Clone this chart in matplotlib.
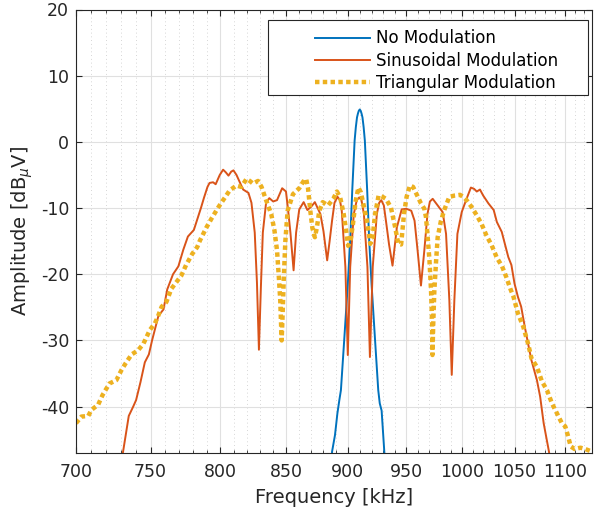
import numpy as np
import matplotlib
matplotlib.use("Agg")
import matplotlib.pyplot as plt
from matplotlib.patches import Rectangle
from matplotlib.ticker import FixedLocator, NullFormatter, FixedFormatter

plt.rcParams['axes.unicode_minus'] = False

# frequency [kHz] / amplitude [dBuV]
f_none = [886, 887, 889.4, 891.4, 893, 894.3, 897, 900, 902, 903.7, 905.7, 906.7,
          907.7, 908.5, 909.2, 910, 910.8, 911.5, 912.3, 913.3, 914.3, 916.3, 918,
          920, 923, 925.7, 927, 928.6, 930.9, 932]
a_none = [-50, -46.8, -44.3, -41, -39, -37.5, -30, -21.5, -14.9, -7.4, 0.2, 2.2,
          3.7, 4.3, 4.7, 4.9, 4.7, 4.3, 3.7, 2.2, 0.2, -7.4, -14.9,
          -21.5, -30, -37.5, -39.5, -40.6, -46.8, -50]

f_sin = [728, 731, 735, 738, 740, 743, 746, 748.8, 751, 755.4, 759, 761.6, 765.7,
         769.5, 773, 776.3, 780.6, 785.7, 788, 790.5, 792, 794.6, 796.5, 799.5, 802,
         804, 806, 808, 809.7, 812, 814.7, 817, 821, 823.3, 825.8, 827.5, 829, 830.5,
         832, 834.5, 837, 840, 843, 847, 850, 851.5, 853.5, 856, 858, 860.5, 864,
         867, 870, 873, 877.5, 880, 883, 885, 887, 889, 891.5, 893.5, 895, 898, 900,
         902, 905, 907.5, 909.5, 911.5, 913.5, 916.5, 918.6, 921, 924.5, 926.5, 928.3,
         930.5, 932.3, 935, 938, 941.8, 946, 950, 954.4, 957.3, 960, 963, 966, 968.8,
         971, 973.5, 978, 982.5, 985.6, 988.6, 990.8, 993.2, 996, 1000, 1004, 1008.5,
         1011.5, 1014, 1017, 1020, 1025, 1030, 1033, 1037.7, 1041, 1044, 1047, 1050,
         1053.3, 1056.5, 1060, 1063.3, 1066.6, 1072, 1075.2, 1078.7, 1084, 1087]
a_sin = [-50, -47, -41.4, -40, -39, -36.3, -33.3, -32.1, -30, -26.3, -25.3, -22.3, -20,
         -18.8, -16.3, -14.3, -13.3, -10, -8.4, -6.8, -6.2, -6.1, -6.4, -5.0, -4.2,
         -4.6, -5.1, -4.5, -4.3, -5.0, -6.2, -7.2, -7.7, -9.2, -13.7, -21.3, -31.4, -22,
         -13.7, -9.2, -8.5, -9.0, -8.8, -7.0, -7.5, -10, -13.7, -19.4, -13.7, -10.2, -9.1,
         -10.3, -9.8, -9.1, -10.9, -13.5, -17.9, -15, -11.9, -9.2, -8.3, -8.8, -10.4, -18.9, -32.2,
         -18.9, -10.9, -8.8, -8.4, -8.8, -10.9, -18.9, -32.5, -18.9, -10.9, -9.2, -8.8,
         -9.6, -11.9, -15.5, -18.7, -12.9, -10.2, -10.1, -10.4, -11.9, -16.4, -21.7, -16.4, -10.9,
         -9.0, -8.6, -9.6, -10.6, -13.9, -23.9, -35.2, -23.9, -13.9, -10.6, -8.8, -6.9,
         -7.1, -7.5, -7.2, -8.1, -9.3, -10.3, -12.1, -13.6, -15.6, -17.4, -18.6, -21.4,
         -23.4, -24.9, -27.9, -30.5, -33, -36, -38.5, -42.5, -46.8, -50]

f_tri = [700, 703.5, 708, 710, 714.5, 717.5, 722, 726.6, 730, 733, 737, 741.3, 745,
         749.5, 753, 755.4, 757.7, 761, 764.5, 768, 771.6, 775, 779.5, 783, 785, 789.8,
         793.4, 798.4, 802, 807, 812, 815.6, 819.5, 822, 824.5, 828.3, 831, 834.5, 838.5,
         841, 843, 844.4, 845.5, 846.2, 846.6, 847.2, 848.2, 849.5, 851.3, 855.5, 860.5,
         863.7, 866, 867.5, 869.4, 871, 873, 874.6, 876.6, 879.4, 883.7, 888, 891, 893.7,
         896.6, 898.6, 900.3, 902.3, 904.3, 906.6, 908.9, 910.9, 913.7, 916.6, 918.9,
         920.9, 923, 926, 929.4, 932.3, 936.6, 940.3, 943, 945.5, 948, 950.3, 953.2, 956,
         958.8, 963, 966, 967.5, 969, 970.6, 972, 973, 973.3, 974, 975, 976.6, 978, 981,
         984.4, 988.6, 993.7, 998.4, 1001.5, 1004.5, 1009, 1014, 1018.5, 1023, 1028, 1033,
         1038, 1042, 1046, 1049, 1053.3, 1058.5, 1063.3, 1066.6, 1072, 1077, 1082, 1087,
         1092, 1097, 1100.5, 1103, 1106, 1110, 1116, 1121, 1128]
a_tri = [-42.5, -41.5, -41.4, -40.5, -39.7, -38.2, -36.5, -36, -34.5, -33.4, -32.1, -31.5,
         -30.5, -28.4, -27.4, -26.2, -24.9, -24.2, -22.2, -21.2, -20.2, -18.6, -16.9, -15.9,
         -14.9, -12.9, -11.6, -9.9, -8.8, -7.3, -6.6, -6.8, -5.6, -5.9, -6.3, -5.9, -6.8,
         -8.8, -10.9, -13.4, -16.4, -20.4, -23.9, -28, -30, -27, -21, -15, -10.4, -7.9,
         -7.0, -6.0, -5.6, -7.0, -10.5, -13.0, -14.4, -13, -10.4, -9.1, -9.6, -8.6, -7.5,
         -8.4, -10.9, -13.4, -15.7, -14.9, -12.4, -8.9, -6.9, -7.6, -9.9, -12.4, -15.4,
         -14.4, -10.9, -8.1, -8.3, -8.6, -9.9, -12.9, -15.4, -15.5, -10.9, -8.3, -6.6, -6.8,
         -7.8, -9.3, -10.1, -11.4, -14.4, -17.9, -22.4, -27.4, -32.2, -27.4, -22.4, -17.9,
         -14.4, -11.9, -10.1, -8.3, -8.1, -8.0, -8.3, -8.8, -9.8, -11.1, -12.4, -14.1, -15.6,
         -17.5, -18.8, -20.4, -22.2, -23.4, -25.9, -27.9, -30.5, -32.7, -34, -36.2, -37.5,
         -39.5, -41, -42.5, -43, -44.3, -46, -46.4, -46.2, -46.4, -46.8]

xticks = [700, 750, 800, 850, 900, 950, 1000, 1050, 1100]
yticks = [-40, -30, -20, -10, 0, 10, 20]

fig = plt.figure(figsize=(5.94, 5.16), dpi=100)
ax = fig.add_axes([76/594, 1-453/516, 516/594, 443.5/516])

ax.plot(f_none, a_none, color='#0072BD', lw=1.4, label='No Modulation')
ax.plot(f_sin, a_sin, color='#D95319', lw=1.4, label='Sinusoidal Modulation')
ax.plot(f_tri, a_tri, color='#EDB120', lw=3.2, dashes=(1.0, 0.75),
        label='Triangular Modulation')

ax.set_xscale('log')
ax.set_xlim(700, 1128)
ax.set_ylim(-47, 20)
ax.xaxis.set_major_locator(FixedLocator(xticks))
ax.xaxis.set_major_formatter(FixedFormatter([str(t) for t in xticks]))
ax.xaxis.set_minor_locator(FixedLocator([m for m in range(710, 1130, 10) if m % 50]))
ax.xaxis.set_minor_formatter(NullFormatter())
ax.set_yticks(yticks)

ax.grid(True, which='major', color='#e0e0e0', lw=0.8)
ax.grid(True, which='minor', axis='x', color='#c8c8c8', lw=0.6, ls=(0, (1, 3.5)))
ax.set_axisbelow(True)

ax.tick_params(which='both', direction='in', top=True, right=True,
               colors='#262626', labelsize=12.5)
ax.tick_params(which='major', length=4)
ax.tick_params(axis='x', which='major', pad=7)
ax.tick_params(axis='y', which='major', pad=5)
ax.tick_params(which='minor', length=2.5)
for s in ax.spines.values():
    s.set_color('#262626')
    s.set_linewidth(0.8)

ax.set_xlabel('Frequency [kHz]', fontsize=14, color='#262626', labelpad=5)
ax.set_ylabel('Amplitude [dB$_{\\mu}$V]', fontsize=14, color='#262626', labelpad=4)

# legend box drawn separately, MATLAB-style wide padding
ax.add_patch(Rectangle((0.372, 0.807), 0.620, 0.169, transform=ax.transAxes,
                       facecolor='white', edgecolor='#262626', lw=0.8, zorder=5))
leg = ax.legend(loc='upper left', bbox_to_anchor=(0.463, 0.955), fontsize=12,
                frameon=False, borderpad=0, borderaxespad=0, handlelength=3.3,
                labelspacing=0.25, handletextpad=0.36)
leg.set_zorder(6)

fig.savefig('out.png', dpi=100)
